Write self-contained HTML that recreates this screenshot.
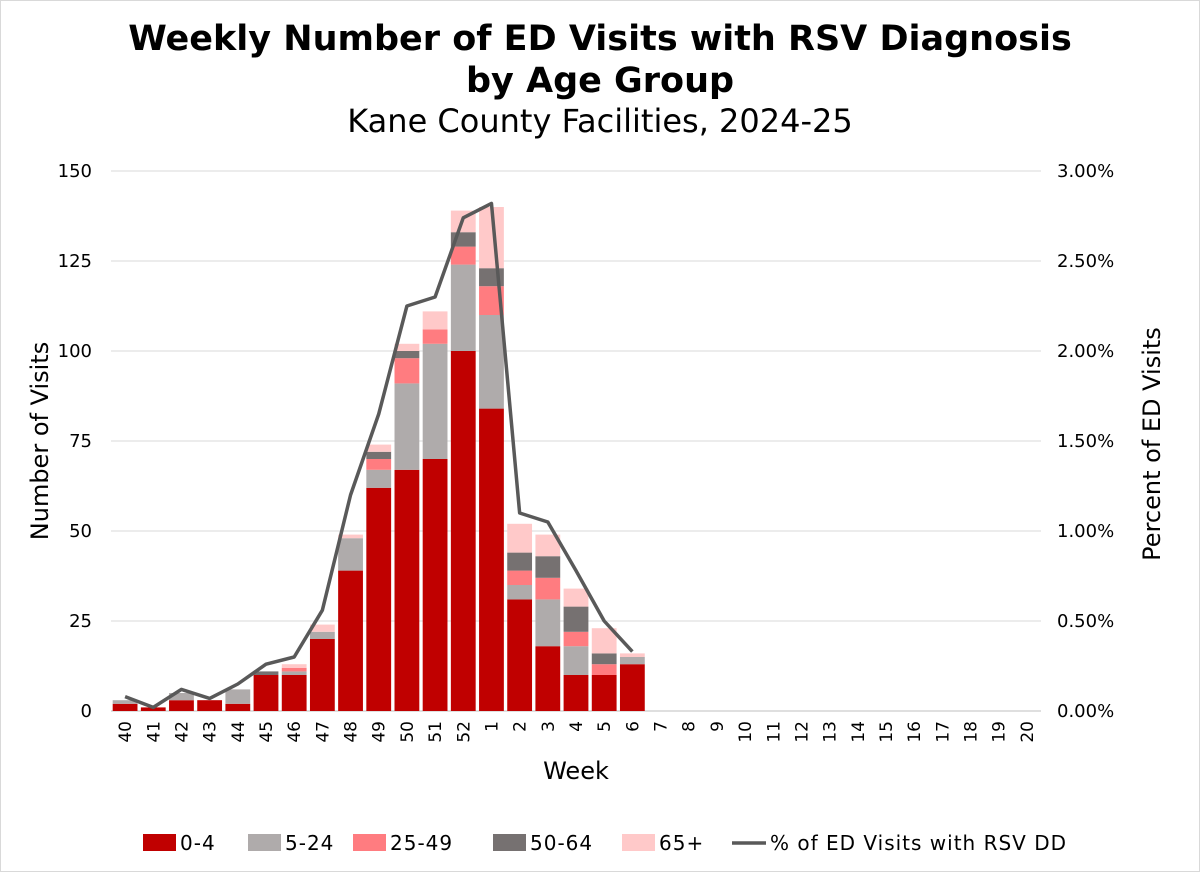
<!DOCTYPE html>
<html><head><meta charset="utf-8"><style>
body{margin:0;background:#fff;}
svg{display:block;font-family:"DejaVu Sans","Liberation Sans",sans-serif;}
</style></head><body>
<svg id="chart" width="1200" height="872">
<rect x="0.5" y="0.5" width="1199" height="871" fill="#fff" stroke="#d9d9d9"/>
<text x="600" y="50" text-anchor="middle" font-size="35" font-weight="bold" fill="#000">Weekly Number of ED Visits with RSV Diagnosis</text>
<text x="600" y="92" text-anchor="middle" font-size="35" font-weight="bold" fill="#000">by Age Group</text>
<text x="600" y="132" text-anchor="middle" font-size="32" fill="#000">Kane County Facilities, 2024-25</text>
<g id="grid"></g><g id="bars"></g><g id="line"></g><g id="axes"></g><g id="legend"></g>
<text transform="translate(48,441) rotate(-90)" text-anchor="middle" font-size="24" fill="#000">Number of Visits</text>
<text transform="translate(1160,444) rotate(-90)" text-anchor="middle" font-size="24" fill="#000">Percent of ED Visits</text>
<text x="576" y="779" text-anchor="middle" font-size="24" fill="#000">Week</text>
</svg>
<script>
const weeks=["40","41","42","43","44","45","46","47","48","49","50","51","52","1","2","3","4","5","6","7","8","9","10","11","12","13","14","15","16","17","18","19","20"];
const age0_4=[2,1,3,3,2,10,10,20,39,62,67,70,100,84,31,18,10,10,13];
const age5_24=[1,0,2,0,4,0,1,2,9,5,24,32,24,26,4,13,8,0,2];
const age25_49=[0,0,0,0,0,0,1,0,0,3,7,4,5,8,4,6,4,3,0];
const age50_64=[0,0,0,0,0,1,0,0,0,2,2,0,4,5,5,6,7,3,0];
const age65=[0,0,0,0,0,0,1,2,1,2,2,5,6,17,8,6,5,7,1];
const pctRSV=[0.08,0.02,0.12,0.07,0.15,0.26,0.30,0.56,1.20,1.65,2.25,2.30,2.74,2.82,1.10,1.05,0.78,0.50,0.33];
const yTicks=[0,25,50,75,100,125,150];
const y2Ticks=["0.00%","0.50%","1.00%","1.50%","2.00%","2.50%","3.00%"];
const seriesNames=["0-4","5-24","25-49","50-64","65+"];
const colors=["#c00000","#afabab","#ff7c80","#767171","#ffc9c9"];
const NS="http://www.w3.org/2000/svg";
const L=111,R=1041,T=171,B=711;
const band=(R-L)/weeks.length;
const x=i=>L+band*(i+0.5);
const y=v=>B-(v/150)*(B-T);
const y2=p=>B-(p/3)*(B-T);
function mk(tag,attrs,parent,txt){const e=document.createElementNS(NS,tag);for(const k in attrs)e.setAttribute(k,attrs[k]);if(txt!==undefined)e.textContent=txt;document.getElementById(parent).appendChild(e);return e;}
yTicks.forEach((t,i)=>{
  const g=mk("line",{x1:L,x2:R,y1:y(t),y2:y(t),stroke:i==0?"#bfbfbf":"#d9d9d9","stroke-width":1},"grid");
  
  
  const a=mk("text",{x:L-19,y:y(t)+6,"text-anchor":"end","font-size":18,fill:"#000"},"axes",String(t));
  
  
  const b=mk("text",{x:R+16,y:y(t)+6,"text-anchor":"start","font-size":18,fill:"#000"},"axes",y2Ticks[i]);
  
  
});
weeks.forEach((w,i)=>{
  const t=mk("text",{transform:`translate(${x(i)+6},${B+10}) rotate(-90)`,"text-anchor":"end","font-size":17,fill:"#000"},"axes",w);
  
  
});
const series=[age0_4,age5_24,age25_49,age50_64,age65];
const bw=band*0.88;
age0_4.forEach((_,i)=>{
  let base=0;
  series.forEach((s,k)=>{
    const v=s[i]||0; if(v<=0)return;
    const r=mk("rect",{x:x(i)-bw/2,y:y(base+v),width:bw,height:y(base)-y(base+v),fill:colors[k]},"bars");
    
    
    base+=v;
  });
});
const pts=pctRSV.map((p,i)=>x(i)+","+y2(p)).join(" ");
const pl=mk("polyline",{points:pts,fill:"none",stroke:"#595959","stroke-width":3.5,"stroke-linejoin":"round"},"line");


const lx=[143,248,353,493,622];
seriesNames.forEach((n,k)=>{
  const r=mk("rect",{x:lx[k],y:834,width:33,height:17,fill:colors[k]},"legend");
  
  
  const t=mk("text",{x:lx[k]+37,y:850,"font-size":20,"letter-spacing":1,fill:"#000"},"legend",n);
  
  
});
const ll=mk("line",{x1:732,x2:766,y1:843,y2:843,stroke:"#595959","stroke-width":3.5},"legend");


const lt=mk("text",{x:770,y:850,"font-size":20,"letter-spacing":1,fill:"#000"},"legend","% of ED Visits with RSV DD");


</script>
</body></html>
